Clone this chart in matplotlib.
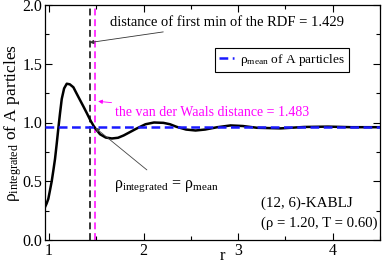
import matplotlib
matplotlib.use("Agg")
import matplotlib.pyplot as plt
from matplotlib.ticker import MultipleLocator

# ----------------------------
# DATA
# ----------------------------
r_values = [0.958, 0.975, 0.993, 1.01, 1.029, 1.046, 1.064, 1.082, 1.099, 1.117,
            1.135, 1.16, 1.188, 1.22, 1.258, 1.29, 1.329, 1.365, 1.40, 1.44,
            1.48, 1.54, 1.60, 1.665, 1.73, 1.79, 1.86, 1.93, 2.02, 2.11,
            2.21, 2.28, 2.35, 2.45, 2.55, 2.65, 2.78, 2.92, 3.05, 3.2,
            3.45, 3.7, 3.95, 4.2, 4.5]
rho_integrated = [0.28, 0.31, 0.35, 0.42, 0.50, 0.59, 0.69, 0.82, 0.95, 1.08,
                  1.20, 1.29, 1.33, 1.325, 1.30, 1.25, 1.19, 1.135, 1.08, 1.015,
                  0.96, 0.90, 0.872, 0.864, 0.87, 0.89, 0.92, 0.95, 0.985, 1.0,
                  0.997, 0.985, 0.963, 0.94, 0.932, 0.94, 0.96, 0.975, 0.97, 0.955,
                  0.95, 0.962, 0.965, 0.96, 0.96]

rho_mean = 0.96
r_first_min = 1.429
r_vdw = 1.483

plt.rcParams["font.family"] = ["Liberation Serif", "DejaVu Serif"]
plt.rcParams["mathtext.fontset"] = "custom"
plt.rcParams["mathtext.rm"] = "Liberation Serif"
plt.rcParams["mathtext.it"] = "Liberation Serif:italic"

fig = plt.figure(figsize=(3.82, 2.64), dpi=100)
ax = fig.add_axes([45 / 382, 24 / 264, 335 / 382, 235 / 264])

ax.plot(r_values, rho_integrated, color="black", lw=1.8, zorder=3)
ax.axhline(rho_mean, color="#1a1aff", lw=1.8, ls=(0, (3.5, 1.8)), zorder=4,
           label="ρ$_{\\mathrm{mean}}$ of A particles")
ax.axvline(r_first_min, color="black", lw=1.1, ls=(0, (4.5, 2.5)), zorder=2)
ax.axvline(r_vdw, color="#ff00ff", lw=1.1, ls=(0, (4.5, 2.5)), zorder=2)

ax.set_xlim(0.958, 4.5)
ax.set_ylim(0.0, 2.0)
ax.xaxis.set_major_locator(MultipleLocator(1))
ax.xaxis.set_minor_locator(MultipleLocator(0.5))
ax.yaxis.set_major_locator(MultipleLocator(0.5))
ax.yaxis.set_minor_locator(MultipleLocator(0.25))
ax.tick_params(which="both", direction="in", top=True, right=True, labelsize=11.5)
ax.tick_params(which="major", length=5, width=0.8, pad=2)
ax.tick_params(which="minor", length=3, width=0.8)
ax.xaxis.set_major_formatter(lambda v, p: f"{v:.0f}")
ax.yaxis.set_major_formatter(lambda v, p: f"{v:.1f}")
for s in ax.spines.values():
    s.set_linewidth(0.9)

ax.set_xlabel("r", fontsize=12)
ax.xaxis.set_label_coords(0.53, -0.035)
ax.set_ylabel("ρ$_{\\mathrm{integrated}}$ of A particles", fontsize=12.5)
ax.yaxis.set_label_coords(-0.062, 0.5)

ax.annotate("distance of first min of the RDF = 1.429",
            xy=(r_first_min, 1.68), xytext=(1.647, 1.85),
            fontsize=10.5, va="center", ha="left",
            arrowprops=dict(arrowstyle="-|>", color="#333333", lw=0.6,
                            mutation_scale=6, shrinkA=0, shrinkB=0))
ax.annotate("the van der Waals distance = 1.483",
            xy=(1.52, 1.18), xytext=(1.70, 1.088),
            fontsize=10, va="center", ha="left", color="#ff00ff",
            arrowprops=dict(arrowstyle="-|>", color="#ff00ff", lw=0.6,
                            mutation_scale=6, shrinkA=2, shrinkB=0))
ax.annotate("ρ$_{\\mathrm{integrated}}$ = ρ$_{\\mathrm{mean}}$",
            xy=(1.49, 0.955), xytext=(1.69, 0.46),
            fontsize=11.5, va="center", ha="left",
            arrowprops=dict(arrowstyle="-|>", color="#444444", lw=0.6,
                            mutation_scale=6, shrinkA=6, shrinkB=0))

ax.text(3.24, 0.314, "(12, 6)-KABLJ", fontsize=10.8, va="center", ha="left")
ax.text(3.24, 0.144, "(ρ = 1.20, T = 0.60)", fontsize=10.6, va="center", ha="left")

leg = ax.legend(loc="upper left", bbox_to_anchor=(0.507, 0.817), borderaxespad=0,
                fontsize=9.6, fancybox=False, framealpha=1, edgecolor="black",
                handlelength=1.1, handletextpad=0.5, borderpad=0.3)
leg.get_frame().set_linewidth(0.8)

fig.savefig("out.png", dpi=100)
